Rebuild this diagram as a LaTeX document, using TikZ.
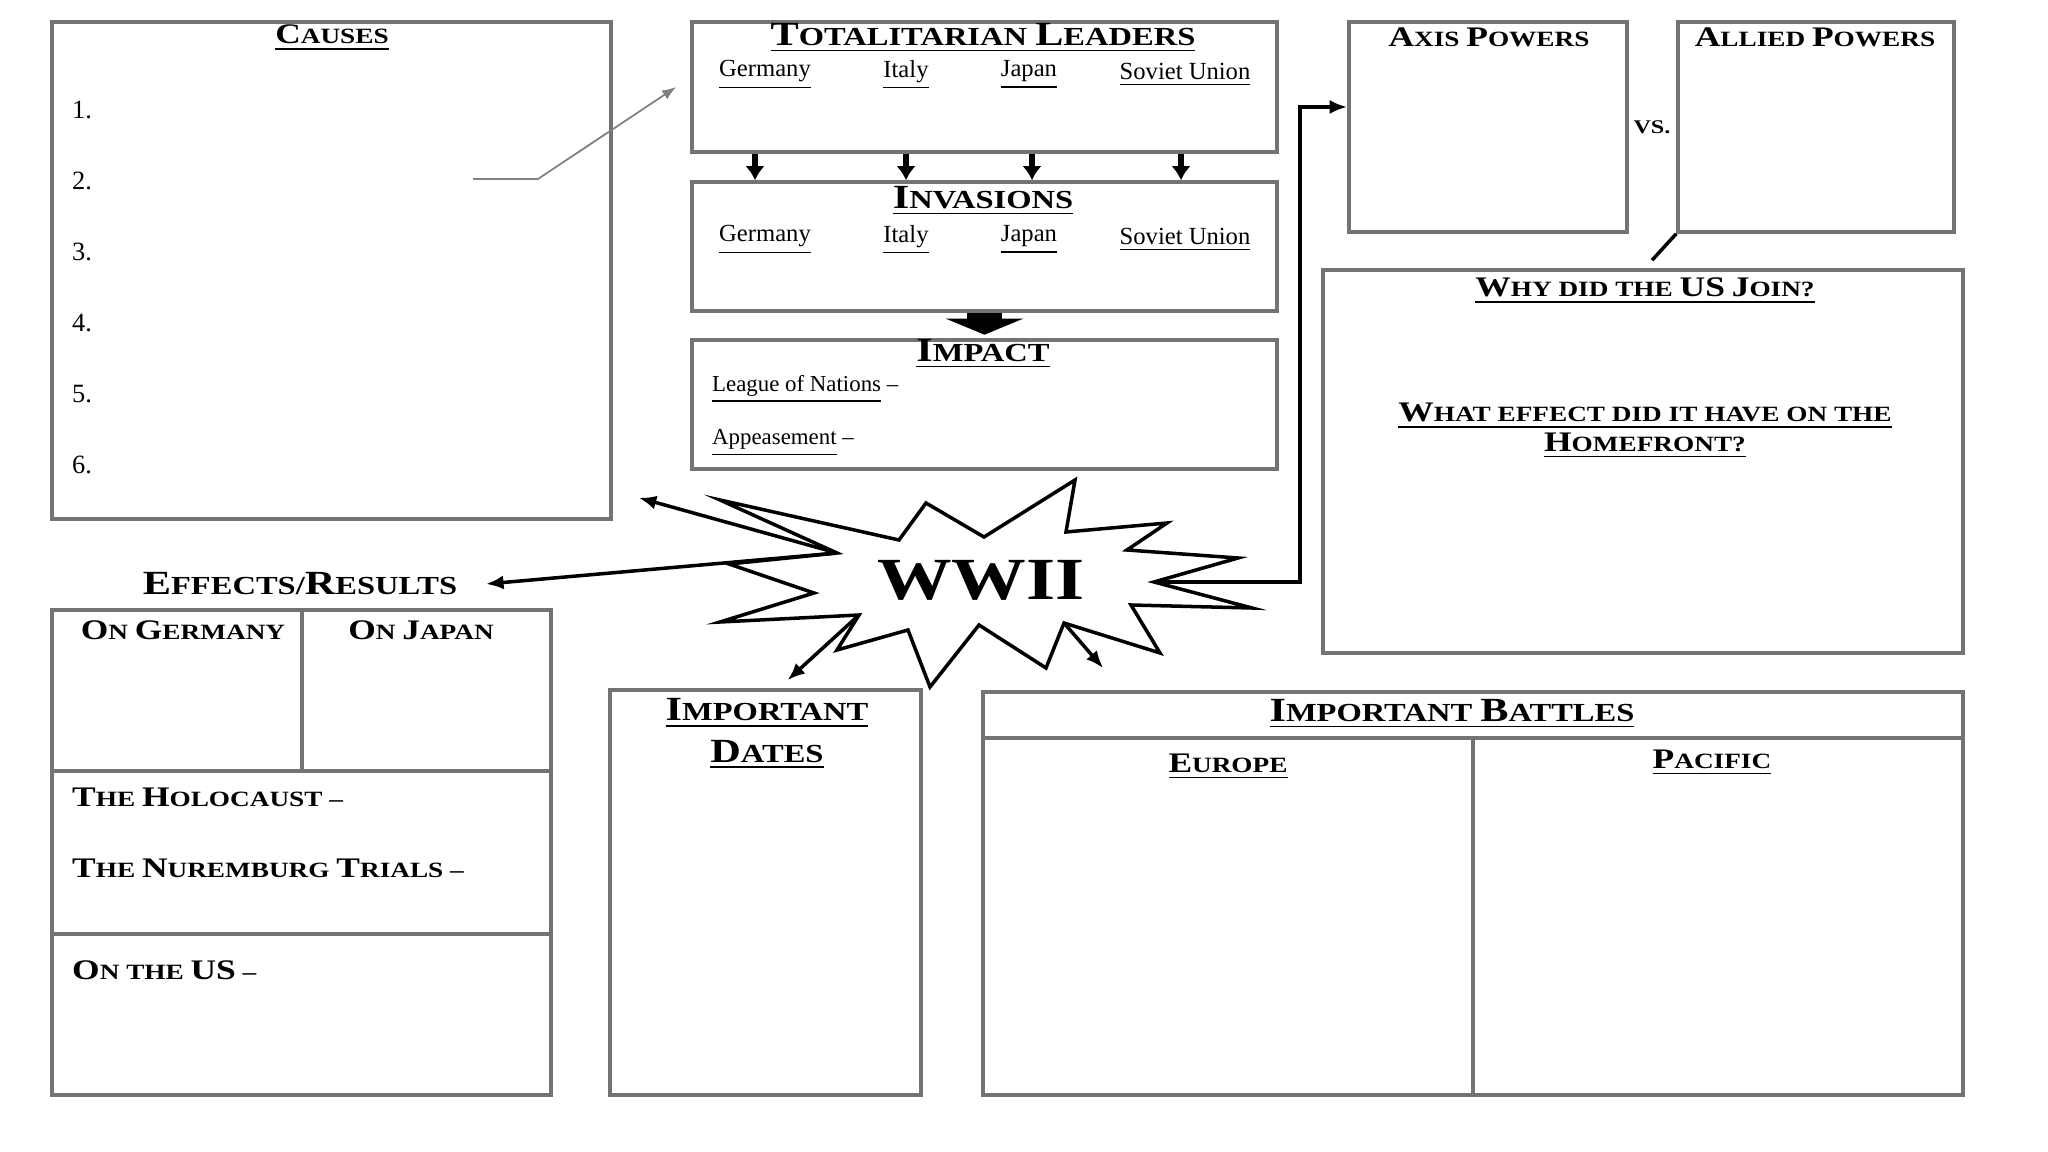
\documentclass[tikz,border=0pt]{standalone}
\usepackage{fontspec}
\setmainfont{Liberation Serif}
\newfontfamily\headfont{Liberation Serif}[FakeStretch=1.25]
\usepackage{graphicx}
\usetikzlibrary{arrows.meta,positioning,fit}
\newcommand{\SC}[2]{\scalebox{1.3}{#1}#2}

\tikzset{
  panel/.style={draw=black!55, line width=1pt, inner sep=0pt},
  divider/.style={draw=black!55, line width=1pt},
  bighead/.style={font=\headfont\bfseries\fontsize{7.4}{11.7}\selectfont, inner sep=1pt, align=center},
  head/.style={font=\headfont\bfseries\fontsize{6.2}{8.5}\selectfont, inner sep=1pt, align=center},
  item/.style={font=\fontsize{7}{8}\selectfont, inner sep=1pt},
  conn/.style={line width=1pt, -{Latex[length=5pt,width=4pt]}},
  thinconn/.style={draw=black!50, line width=0.5pt, -{Latex[length=4pt,width=3pt]}},
  downarr/.style={line width=1.6pt, -{Latex[length=4pt,width=5.5pt]}},
  fatarr/.style={line width=10pt, -{Triangle[length=4.6pt,width=22pt]}},
  burst/.style={draw, fill=white, line width=1pt, line join=miter},
}

\begin{document}
\begin{tikzpicture}[x=0.01cm, y=-0.01cm]
\useasboundingbox (0,0) rectangle (2048,1152);

% boxes
\node[panel, fit={(52,22) (611,519)}] (causes) {};
\node[panel, fit={(692,22) (1277,152)}] (leaders) {};
\node[panel, fit={(692,182) (1277,311)}] (invasions) {};
\node[panel, fit={(692,340) (1277,469)}] (impact) {};
\node[panel, fit={(1349,22) (1627,232)}] (axis) {};
\node[panel, fit={(1678,22) (1954,232)}] (allied) {};
\node[panel, fit={(1323,270) (1963,653)}] (usjoin) {};
\node[panel, fit={(52,610) (551,1095)}] (effects) {};
\node[panel, fit={(610,690) (921,1095)}] (dates) {};
\node[panel, fit={(983,692) (1963,1095)}] (battles) {};

% inner rules
\draw[divider] (302,610) -- (302,771);
\draw[divider] (52,771) -- (551,771);
\draw[divider] (52,934) -- (551,934);
\draw[divider] (983,738) -- (1963,738);
\draw[divider] (1473,738) -- (1473,1095);

% causes
\node[head] (causestitle) at (332,38) {\underline{\SC{C}{AUSES}}};
\foreach \n in {1,...,6}
  \node[item, font=\fontsize{7.5}{8}\selectfont, anchor=west] (num\n) at (68,{39+71*\n}) {\n.};

% leaders, invasions, impact
\node[bighead] (leaderstitle) at (983,38) {\underline{\SC{T}{OTALITARIAN} \SC{L}{EADERS}}};
\node[bighead] (invasionstitle) at (983,201) {\underline{\SC{I}{NVASIONS}}};
\node[bighead] (impacttitle) at (983,354) {\underline{\SC{I}{MPACT}}};
\foreach \c/\x in {Germany/765, Italy/906, Japan/1029, Soviet Union/1185} {
  \node[item] (lead\x) at (\x,75) {\underline{\c}};
  \node[item] (inv\x) at (\x,240) {\underline{\c}};
}
\node[item, font=\fontsize{6.5}{7}\selectfont, anchor=west] (league) at (708,389) {\underline{League of Nations} \textendash};
\node[item, font=\fontsize{6.5}{7}\selectfont, anchor=west] (appease) at (708,443) {\underline{Appeasement} \textendash};

\foreach \x in {755,906,1032,1181}
  \draw[downarr] (leaders.south -| \x,0) -- (invasions.north -| \x,0);
\draw[fatarr] (invasions.south) -- ([yshift=1pt]impact.north);

% powers and the US
\node[head] (axistitle) at (1489,37) {\SC{A}{XIS} \SC{P}{OWERS}};
\node[head] (alliedtitle) at (1815,37) {\SC{A}{LLIED} \SC{P}{OWERS}};
\node[head, font=\headfont\bfseries\fontsize{5.5}{6}\selectfont] (vs) at (1652,127) {VS.};
\node[head] (why) at (1645,291) {\underline{\SC{W}{HY} DID THE \SC{US}{} \SC{J}{OIN}?}};
\node[head] (homefront) at (1645,431) {\underline{\SC{W}{HAT} EFFECT DID IT HAVE ON THE}\\\underline{\SC{H}{OMEFRONT}?}};

% effects
\node[bighead] (efflbl) at (300,584) {\SC{E}{FFECTS}/\SC{R}{ESULTS}};
\node[head] (ongermany) at (183,630) {\SC{O}{N} \SC{G}{ERMANY}};
\node[head] (onjapan) at (421,630) {\SC{O}{N} \SC{J}{APAN}};
\node[head, anchor=west] (holocaust) at (68,797) {\SC{T}{HE} \SC{H}{OLOCAUST} \textendash};
\node[head, anchor=west] (nuremburg) at (68,868) {\SC{T}{HE} \SC{N}{UREMBURG} \SC{T}{RIALS} \textendash};
\node[head, anchor=west] (onus) at (68,970) {\SC{O}{N} THE \SC{US}{} \textendash};

% dates and battles
\node[bighead] (datestitle) at (767,734) {\underline{\SC{I}{MPORTANT}}\\\underline{\SC{D}{ATES}}};
\node[bighead] (battlestitle) at (1452,714) {\underline{\SC{I}{MPORTANT} \SC{B}{ATTLES}}};
\node[head] (europe) at (1228,767) {\underline{\SC{E}{UROPE}}};
\node[head] (pacific) at (1712,763) {\underline{\SC{P}{ACIFIC}}};

% the burst
\draw[burst] (837,553) coordinate (s1) -- (720,500) -- (899,540) -- (926,503) -- (984,537)
  -- (1075,480) -- (1066,532) -- (1167,523) -- (1127,550) -- (1238,558)
  -- (1154,582) coordinate (s11) -- (1252,608) -- (1131,605) -- (1160,653)
  -- (1064,623) coordinate (s15) -- (1046,668) -- (979,625) -- (930,687) -- (908,630)
  -- (837,650) -- (859,615) coordinate (s21) -- (720,622) -- (814,593) -- (729,564) -- cycle;
\node[font=\headfont\bfseries\fontsize{17}{18}\selectfont, inner sep=0pt] (wwii) at (981,580) {WWII};

% connectors
\coordinate (c2) at (473,179);
\draw[thinconn] (c2) -- ++(65,0) -- ([xshift=-4pt]leaders.west);
\draw[conn] (s1) -- ([shift={(26,-23)}]causes.south east);
\draw[conn] (s1) -- ([xshift=7pt]efflbl.east);
\draw[conn] (s21) -- ([shift={(22,-8)}]dates.north);
\draw[conn] (s15) -- ([shift={(122,-22)}]battles.north west);
\draw[conn] (s11) -- ++(146,0) |- ([yshift=5.7pt]axis.west);
\draw[line width=1pt] (allied.south west) -- ([shift={(9,-8)}]usjoin.north);
\end{tikzpicture}
\end{document}
